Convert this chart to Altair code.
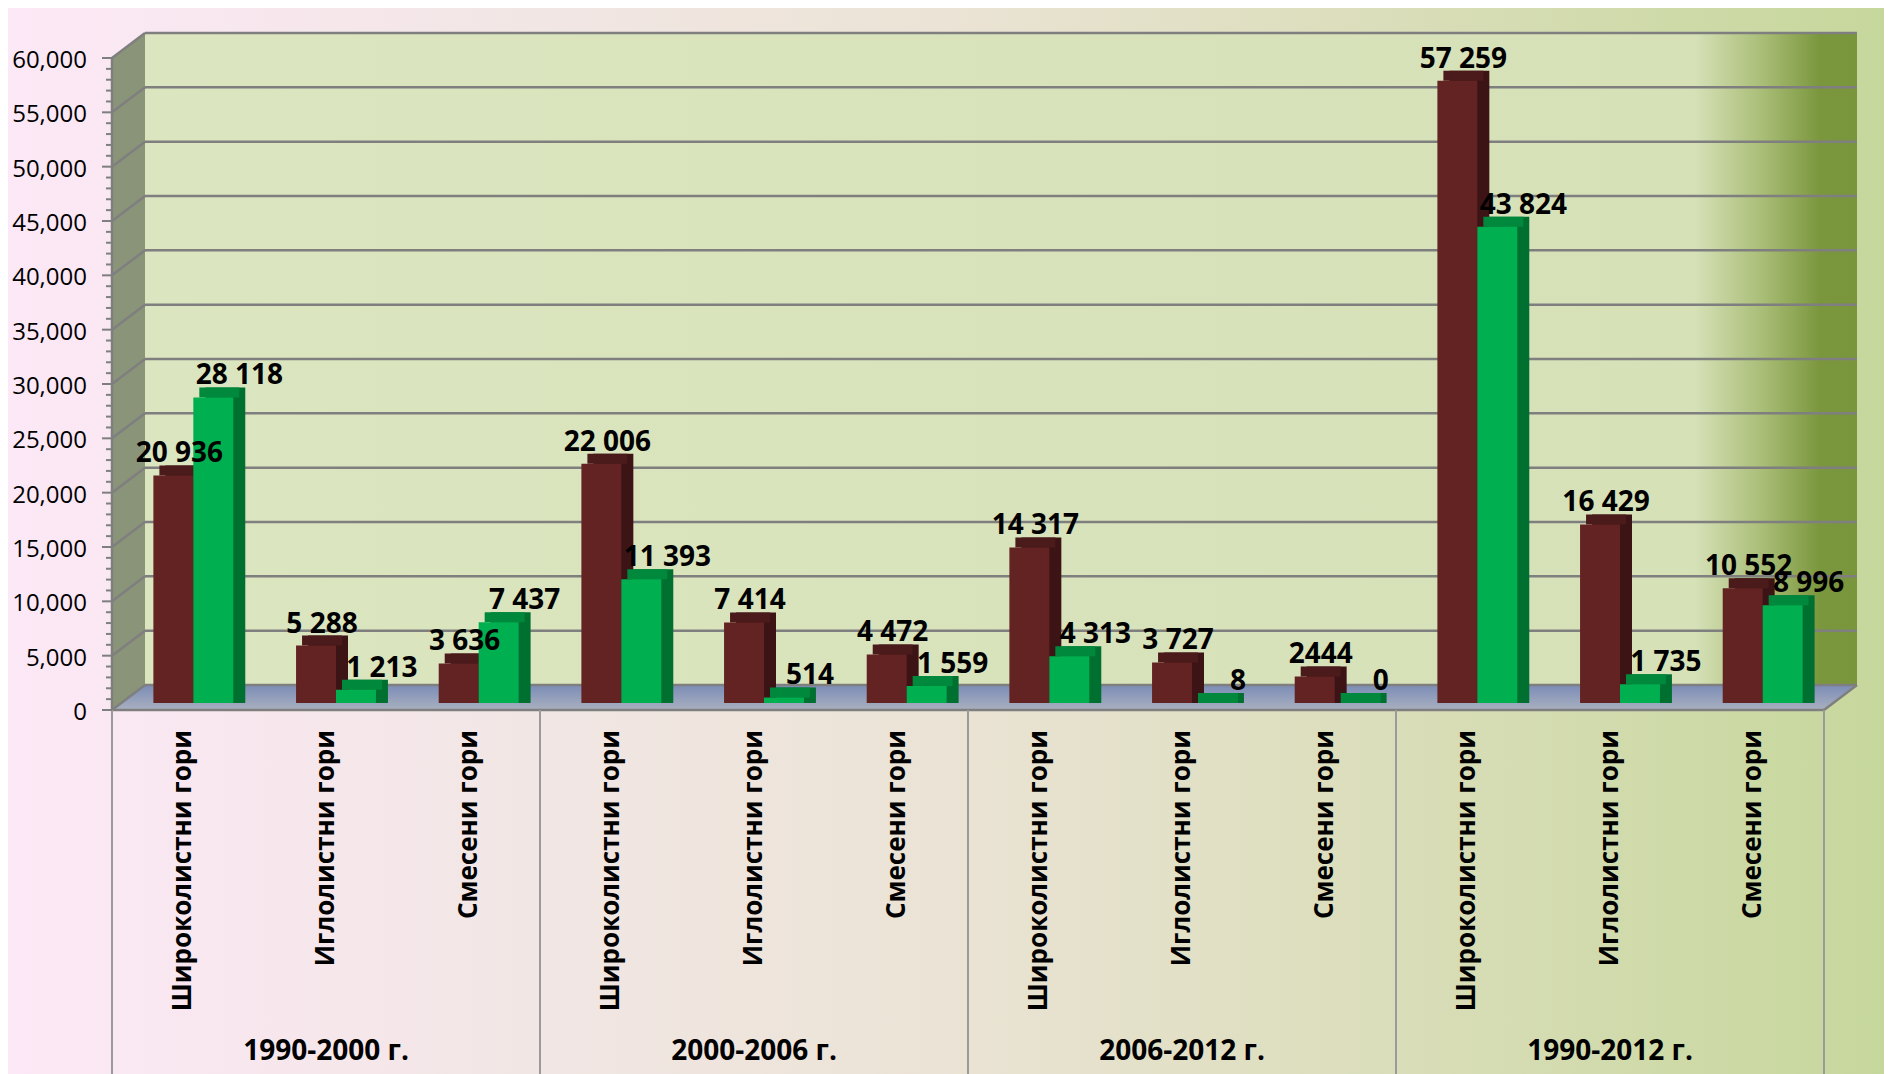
import altair as alt
import pandas as pd

# ---------------- data ----------------
periods = ["1990-2000 г.", "2000-2006 г.", "2006-2012 г.", "1990-2012 г."]
forest_types = ["Широколистни гори", "Иглолистни гори", "Смесени гори"]
series_a = [20936, 5288, 3636, 22006, 7414, 4472, 14317, 3727, 2444, 57259, 16429, 10552]
series_b = [28118, 1213, 7437, 11393, 514, 1559, 4313, 8, 0, 43824, 1735, 8996]
labels_a = ["20 936", "5 288", "3 636", "22 006", "7 414", "4 472",
            "14 317", "3 727", "2444", "57 259", "16 429", "10 552"]
labels_b = ["28 118", "1 213", "7 437", "11 393", "514", "1 559",
            "4 313", "8", "0", "43 824", "1 735", "8 996"]
y_ticks = list(range(0, 60001, 5000))
y_tick_labels = [f"{v:,}" for v in y_ticks]
y_minor = [v for v in range(0, 60001, 1000) if v % 5000 != 0]

# ---------------- layout / style ----------------
W, H = 1712, 652
PAD_L, PAD_T, PAD_R, PAD_B = 104, 50, 60, 364
NSLOT = len(series_a)
YMAX = 60000
DX, DY = 33, 25          # depth of the 3D box (px)
BDX, BDY = 10, 7         # bar position inside the box (px)
BD_X, BD_Y = 12, 10      # bar depth (px)
BAR_W = 0.28             # bar width in slot units
dxu = DX / (W / NSLOT)
dyu = DY / H * YMAX

FONT = "Open Sans"
GRID = "#7f7f7f"
DARK = ["#622322", "#4b1a1a", "#3d1415"]
GREEN = ["#00b050", "#00883c", "#007030"]

XS = alt.Scale(domain=[0, NSLOT], nice=False, zero=False)
YS = alt.Scale(domain=[0, YMAX], nice=False, zero=False)


def X(f):
    return alt.X(f, type="quantitative", scale=XS, axis=None)


def Y(f):
    return alt.Y(f, type="quantitative", scale=YS, axis=None)


# bar table
rows = []
for i in range(NSLOT):
    for s, (vals, labs) in enumerate([(series_a, labels_a), (series_b, labels_b)]):
        x1 = i + 0.5 - BAR_W + s * BAR_W
        rows.append({"slot": i, "s": s, "v": vals[i], "lab": labs[i],
                     "x1": x1, "x2": x1 + BAR_W, "xc": x1 + BAR_W / 2,
                     "base": 0})
bars = pd.DataFrame(rows)
bars_a = bars[bars.s == 0]
bars_b = bars[bars.s == 1]

cats = pd.DataFrame({"xc": [i + 0.5 for i in range(NSLOT)],
                     "t": [forest_types[i % 3] for i in range(NSLOT)]})
grp = pd.DataFrame({"xc": [3 * g + 1.5 for g in range(len(periods))], "t": periods})
divs = pd.DataFrame({"x": [3 * g for g in range(len(periods) + 1)]})

one = pd.DataFrame({"a": [0]})
wall = pd.DataFrame({"x1": [0], "x2": [NSLOT], "y1": [0], "y2": [YMAX]})
side = pd.DataFrame({"sx": [0, dxu], "sy1": [0, dyu], "sy2": [YMAX, YMAX + dyu]})
floor = pd.DataFrame({"fy": [0, dyu], "fx1": [0, dxu], "fx2": [NSLOT, NSLOT + dxu]})
grid = pd.DataFrame({"v": y_ticks, "t": y_tick_labels, "x1": 0, "x2": NSLOT})
minor = pd.DataFrame({"v": y_minor})

# ---------------- layers ----------------
bg = alt.Chart(one).mark_rect(
    fill=alt.Gradient(gradient="linear", x1=0, x2=1, y1=0, y2=0,
                      stops=[alt.GradientStop(color="#fce8f6", offset=0),
                             alt.GradientStop(color="#f1e6e3", offset=0.3),
                             alt.GradientStop(color="#ebe3d5", offset=0.5),
                             alt.GradientStop(color="#d9ddb8", offset=0.75),
                             alt.GradientStop(color="#c6d79c", offset=1)])
).encode(x=alt.value(-PAD_L), x2=alt.value(W + PAD_R),
         y=alt.value(-PAD_T), y2=alt.value(H + PAD_B))

back = alt.Chart(wall).mark_rect(
    xOffset=DX, x2Offset=DX, yOffset=-DY, y2Offset=-DY,
    fill=alt.Gradient(gradient="linear", x1=0, x2=1, y1=0, y2=0,
                      stops=[alt.GradientStop(color="#dbe5bf", offset=0),
                             alt.GradientStop(color="#d6e1b8", offset=0.905),
                             alt.GradientStop(color="#a9bd76", offset=0.945),
                             alt.GradientStop(color="#7b973e", offset=0.978),
                             alt.GradientStop(color="#7a963d", offset=1)])
).encode(x=X("x1"), x2="x2", y=Y("y1"), y2="y2")

sidewall = alt.Chart(side).mark_area(orient="vertical", color="#8a9479").encode(
    x=X("sx"), y=Y("sy1"), y2="sy2")

floorm = alt.Chart(floor).mark_area(
    orient="horizontal",
    fill=alt.Gradient(gradient="linear", x1=0, x2=0, y1=0, y2=1,
                      stops=[alt.GradientStop(color="#7b8cb6", offset=0),
                             alt.GradientStop(color="#a9b0bf", offset=1)])
).encode(y=Y("fy"), x=X("fx1"), x2="fx2")

grid_back = alt.Chart(grid).mark_rule(
    color=GRID, strokeWidth=2.5, xOffset=DX, x2Offset=DX, yOffset=-DY
).encode(x=X("x1"), x2="x2", y=Y("v"))

grid_side = alt.Chart(grid).mark_rule(
    color=GRID, strokeWidth=2.5, x2Offset=DX, y2Offset=-DY
).encode(x=X("x1"), x2="x1", y=Y("v"), y2="v")

edge_right = alt.Chart(wall).mark_rule(
    color=GRID, strokeWidth=2.5, x2Offset=DX, y2Offset=-DY
).encode(x=X("x2"), x2="x2", y=Y("y1"), y2="y1")

front_edge = alt.Chart(wall).mark_rule(color=GRID, strokeWidth=2.5).encode(
    x=X("x1"), x2="x2", y=Y("y1"))

y_domain = alt.Chart(wall).mark_rule(color=GRID, strokeWidth=2.5).encode(
    x=X("x1"), y=Y("y1"), y2="y2")

dividers = alt.Chart(divs).mark_rule(color="#9a9a9a", strokeWidth=2).encode(
    x=X("x"), y=alt.value(H), y2=alt.value(H + PAD_B))

minor_ticks = alt.Chart(minor).mark_rule(color=GRID, strokeWidth=2).encode(
    x=alt.value(-6), x2=alt.value(0), y=Y("v"))

major_ticks = alt.Chart(grid).mark_rule(color=GRID, strokeWidth=2).encode(
    x=alt.value(-10), x2=alt.value(0), y=Y("v"))

y_labels = alt.Chart(grid).mark_text(
    font=FONT, fontSize=24, color="#000000", align="right", baseline="middle", dy=3
).encode(x=alt.value(-25), y=Y("v"), text="t:N")


def bar_layers(df, cols):
    side_m = alt.Chart(df).mark_rect(
        color=cols[2], xOffset=BDX + BD_X, x2Offset=BDX + BD_X,
        yOffset=-BDY - BD_Y, y2Offset=-BDY
    ).encode(x=X("x1"), x2="x2", y=Y("v"), y2="base")
    top_m = alt.Chart(df).mark_rect(
        color=cols[1], xOffset=BDX + BD_X / 2, x2Offset=BDX + BD_X / 2,
        yOffset=-BDY - BD_Y, y2Offset=-BDY
    ).encode(x=X("x1"), x2="x2", y=Y("v"), y2="v")
    front_m = alt.Chart(df).mark_rect(
        color=cols[0], xOffset=BDX, x2Offset=BDX, yOffset=-BDY, y2Offset=-BDY
    ).encode(x=X("x1"), x2="x2", y=Y("v"), y2="base")
    return side_m, top_m, front_m


a_side, a_top, a_front = bar_layers(bars_a, DARK)
b_side, b_top, b_front = bar_layers(bars_b, GREEN)

val_a = alt.Chart(bars_a).mark_text(
    font=FONT, fontWeight="bold", fontSize=28, color="#000000",
    baseline="alphabetic", dx=BDX + BD_X / 2, dy=-BDY - BD_Y - 3
).encode(x=X("xc"), y=Y("v"), text="lab:N")

val_b = alt.Chart(bars_b).mark_text(
    font=FONT, fontWeight="bold", fontSize=28, color="#000000",
    baseline="alphabetic", dx=BDX + BD_X / 2 + 20, dy=-BDY - BD_Y - 3
).encode(x=X("xc"), y=Y("v"), text="lab:N")

cat_text = alt.Chart(cats).mark_text(
    font=FONT, fontWeight="bold", fontSize=26, color="#000000",
    angle=270, align="right", baseline="middle"
).encode(x=X("xc"), y=alt.value(H + 20), text="t:N")

grp_text = alt.Chart(grp).mark_text(
    font=FONT, fontWeight="bold", fontSize=28, color="#000000",
    align="center", baseline="middle"
).encode(x=X("xc"), y=alt.value(H + 342), text="t:N")

chart = alt.layer(
    bg, back, sidewall, floorm, grid_back, grid_side, edge_right,
    front_edge, dividers, y_domain, minor_ticks, major_ticks, y_labels,
    a_side, b_side, a_top, b_top, a_front, b_front,
    val_a, val_b, cat_text, grp_text
).properties(
    width=W, height=H,
    autosize=alt.AutoSizeParams(type="none"),
    padding={"left": PAD_L, "top": PAD_T, "right": PAD_R, "bottom": PAD_B},
    background="white"
).configure_view(stroke=None)

chart.save("out.html", embed_options={"renderer": "svg", "actions": False})
